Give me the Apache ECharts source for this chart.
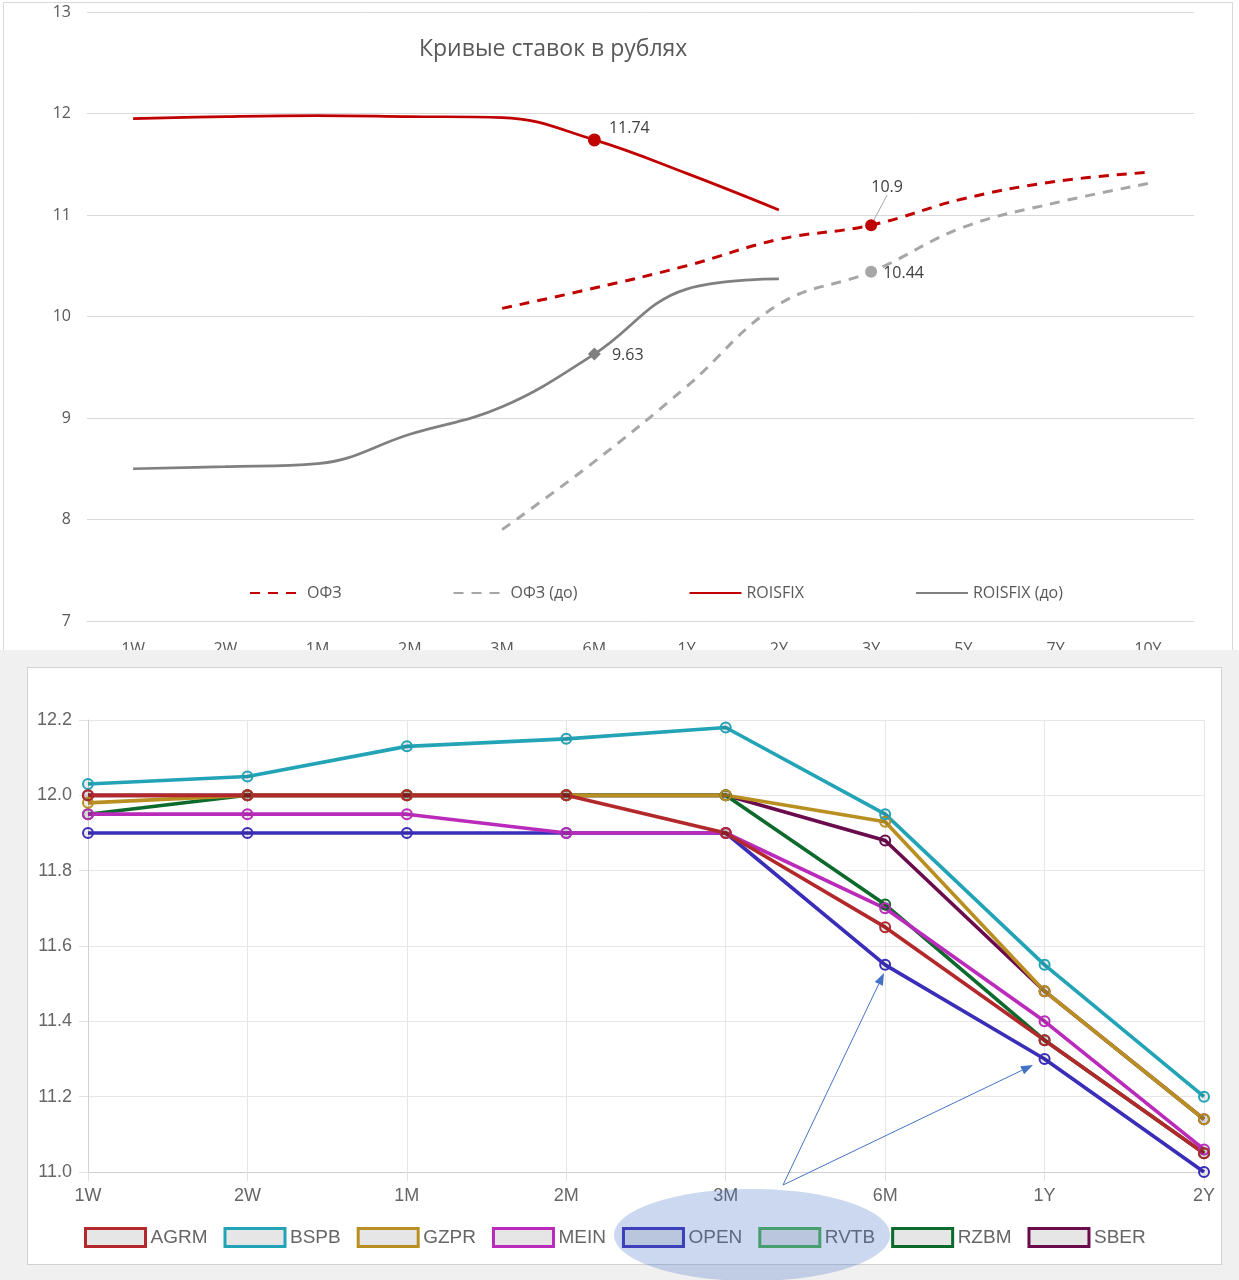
<!DOCTYPE html>
<html><head><meta charset="utf-8">
<script src="https://cdn.jsdelivr.net/npm/echarts@6/dist/echarts.min.js"></script>
<style>
html,body{margin:0;padding:0;background:#fff;}
#wrap{position:relative;width:1239px;height:1280px;overflow:hidden;}
#topClip{position:absolute;left:0;top:0;width:1239px;height:650px;overflow:hidden;background:#fff;}
#topDiv{position:absolute;left:0;top:0;width:1239px;height:680px;}
#frame{position:absolute;left:3px;top:2px;width:1228px;height:680px;border:1px solid #d9d9d9;pointer-events:none;}
#bottomWrap{position:absolute;left:0;top:650px;width:1239px;height:630px;background:#f0f0f0;}
#box{position:absolute;left:27px;top:17px;width:1193px;height:596px;background:#fff;border:1px solid #d2d2d2;}
#bottomDiv{position:absolute;left:0;top:0;width:1239px;height:630px;}
</style></head>
<body>
<div id="wrap">
  <div id="topClip"><div id="topDiv"></div><div id="frame"></div></div>
  <div id="bottomWrap"><div id="box"></div><div id="bottomDiv"></div></div>
</div>
<script>
// ---------- top chart data ----------
const tenors = ['1W','2W','1M','2M','3M','6M','1Y','2Y','3Y','5Y','7Y','10Y'];
const ofz           = [null,null,null,null,10.08,10.28,10.50,10.76,10.90,11.16,11.33,11.42];
const ofzBefore     = [null,null,null,null,7.90,8.57,9.31,10.12,10.44,10.88,11.12,11.31];
const roisfix       = [11.95,11.97,11.98,11.97,11.96,11.74,11.41,11.05,null,null,null,null];
const roisfixBefore = [8.50,8.52,8.55,8.84,9.11,9.63,10.27,10.37,null,null,null,null];
const topTicks = [7,8,9,10,11,12,13];

// ---------- bottom chart data ----------
const bTenors = ['1W','2W','1M','2M','3M','6M','1Y','2Y'];
const agrm = [12.00,12.00,12.00,12.00,11.90,11.65,11.35,11.05];
const bspb = [12.03,12.05,12.13,12.15,12.18,11.95,11.55,11.20];
const gzpr = [11.98,12.00,12.00,12.00,12.00,11.93,11.48,11.14];
const mein = [11.95,11.95,11.95,11.90,11.90,11.70,11.40,11.06];
const open = [11.90,11.90,11.90,11.90,11.90,11.55,11.30,11.00];
const rvtb = [];
const rzbm = [11.95,12.00,12.00,12.00,12.00,11.71,11.35,11.05];
const sber = [12.00,12.00,12.00,12.00,12.00,11.88,11.48,11.14];
const bNames = ['AGRM','BSPB','GZPR','MEIN','OPEN','RVTB','RZBM','SBER'];
const bData = [agrm,bspb,gzpr,mein,open,rvtb,rzbm,sber];
const bColors = ['#b3282a','#22a3b6','#b98f22','#bb2bbb','#3a2db8','#4caf50','#0c6a2c','#6a0b4c'];

// ---------- top chart ----------
const RED = '#c00000', GRAY_D = '#a6a6a6', GRAY = '#808080';
const tFont = 'Open Sans';
function withPoint(arr, idx, extra){
  return arr.map((v,i)=> i===idx ? Object.assign({value:v}, extra) : v);
}
const lblBase = {show:true, color:'#404040', fontSize:16, fontFamily:tFont, formatter:'{c}'};
const topChart = echarts.init(document.getElementById('topDiv'), null, {renderer:'canvas'});
topChart.setOption({
  animation:false,
  title:{text:'Кривые ставок в рублях', left:414, top:33,
    textStyle:{color:'#595959', fontSize:23, fontWeight:'normal', fontFamily:tFont}},
  legend:{left:249, top:585, padding:0, itemWidth:52, itemHeight:14, itemGap:111,
    itemStyle:{color:'rgba(0,0,0,0)', borderColor:'rgba(0,0,0,0)', borderWidth:0, opacity:0},
    textStyle:{color:'#595959', fontSize:16, fontFamily:tFont},
    data:['ОФЗ','ОФЗ (до)','ROISFIX','ROISFIX (до)']},
  grid:{left:87, right:45, top:12, bottom:59},
  xAxis:{type:'category', data:tenors, boundaryGap:true,
    axisLine:{lineStyle:{color:'#d9d9d9'}}, axisTick:{show:false},
    axisLabel:{color:'#595959', fontSize:16, fontFamily:tFont, margin:20}},
  yAxis:{type:'value', min:topTicks[0], max:topTicks[topTicks.length-1], interval:1,
    axisLine:{show:false}, axisTick:{show:false},
    splitLine:{lineStyle:{color:'#d9d9d9', width:1}},
    axisLabel:{color:'#595959', fontSize:16, fontFamily:tFont, margin:16}},
  series:[
    {name:'ОФЗ (до)', type:'line', smooth:0.4, symbol:'none', connectNulls:false,
      lineStyle:{color:GRAY_D, width:3, type:[10,8]}, itemStyle:{color:GRAY_D},
      data: withPoint(ofzBefore, 8, {symbol:'circle', symbolSize:12, itemStyle:{color:GRAY_D},
        label:Object.assign({}, lblBase, {position:'right', distance:6, offset:[0,2]})})},
    {name:'ROISFIX (до)', type:'line', smooth:0.4, symbol:'none',
      lineStyle:{color:GRAY, width:2.7}, itemStyle:{color:GRAY},
      data: withPoint(roisfixBefore, 5, {symbol:'diamond', symbolSize:13, itemStyle:{color:GRAY},
        label:Object.assign({}, lblBase, {position:'right', distance:11, offset:[0,1]})})},
    {name:'ROISFIX', type:'line', smooth:0.4, symbol:'none',
      lineStyle:{color:RED, width:2.7}, itemStyle:{color:RED},
      data: withPoint(roisfix, 5, {symbol:'circle', symbolSize:13, itemStyle:{color:RED},
        label:Object.assign({}, lblBase, {position:'right', distance:8, offset:[0,-11]})})},
    {name:'ОФЗ', type:'line', smooth:0.4, symbol:'none',
      lineStyle:{color:RED, width:3, type:[10,8]}, itemStyle:{color:RED},
      labelLayout:{dx:16, dy:-20},
      labelLine:{show:true, lineStyle:{color:'#a6a6a6', width:1}},
      data: withPoint(ofz, 8, {symbol:'circle', symbolSize:12, itemStyle:{color:RED},
        label:Object.assign({}, lblBase, {position:'top', distance:4})})}
  ]
});

// ---------- bottom chart ----------
const bFont = 'Liberation Sans';
function arrow(x1,y1,x2,y2,c){
  const dx=x2-x1, dy=y2-y1, L=Math.hypot(dx,dy), ux=dx/L, uy=dy/L;
  const hl=12, hw=4.5, bx=x2-ux*hl, by=y2-uy*hl, px=-uy*hw, py=ux*hw;
  return [
    {type:'line', z:101, shape:{x1:x1,y1:y1,x2:bx,y2:by}, style:{stroke:c, lineWidth:1}},
    {type:'polygon', z:101, shape:{points:[[x2,y2],[bx+px,by+py],[bx-px,by-py]]}, style:{fill:c}}
  ];
}
const bSeries = [];
for (let i = bNames.length-1; i >= 0; i--) {
  bSeries.push({name:bNames[i], type:'line', symbol:'circle', symbolSize:10,
    lineStyle:{color:bColors[i], width:3.6},
    itemStyle:{color:'rgba(0,0,0,0.08)', borderColor:bColors[i], borderWidth:2},
    emphasis:{disabled:true},
    data:bData[i]});
}
const bottomChart = echarts.init(document.getElementById('bottomDiv'), null, {renderer:'canvas'});
bottomChart.setOption({
  animation:false,
  backgroundColor:'transparent',
  grid:{left:88, right:35, top:70, bottom:108},
  legend:{left:84, top:577, padding:0, icon:'rect', itemWidth:60, itemHeight:18, itemGap:16,
    textStyle:{color:'#666', fontSize:19, fontFamily:bFont},
    data:bNames.map((n,i)=>({name:n, itemStyle:{color:'#e6e6e6', borderColor:bColors[i], borderWidth:3}}))},
  xAxis:{type:'category', data:bTenors, boundaryGap:false,
    axisLine:{lineStyle:{color:'#d0d0d0'}},
    axisTick:{show:true, length:9, lineStyle:{color:'#e2e2e2'}},
    splitLine:{show:true, lineStyle:{color:'#e6e6e6'}},
    axisLabel:{color:'#666', fontSize:18, fontFamily:bFont, margin:15}},
  yAxis:{type:'value', min:11.0, max:12.2, interval:0.2,
    axisLine:{show:true, lineStyle:{color:'#d0d0d0'}},
    axisTick:{show:true, length:9, lineStyle:{color:'#e2e2e2'}},
    splitLine:{lineStyle:{color:'#e6e6e6'}},
    axisLabel:{color:'#666', fontSize:18, fontFamily:bFont, margin:16, formatter:v=>v.toFixed(1)}},
  series:bSeries,
  graphic:[
    {type:'ellipse', z:100, shape:{cx:752, cy:585, rx:138, ry:46}, style:{fill:'rgba(68,114,196,0.28)'}},
    ...arrow(783,535,884,323,'#4472c4'),
    ...arrow(783,535,1033,415,'#4472c4')
  ]
});
</script>
</body></html>
